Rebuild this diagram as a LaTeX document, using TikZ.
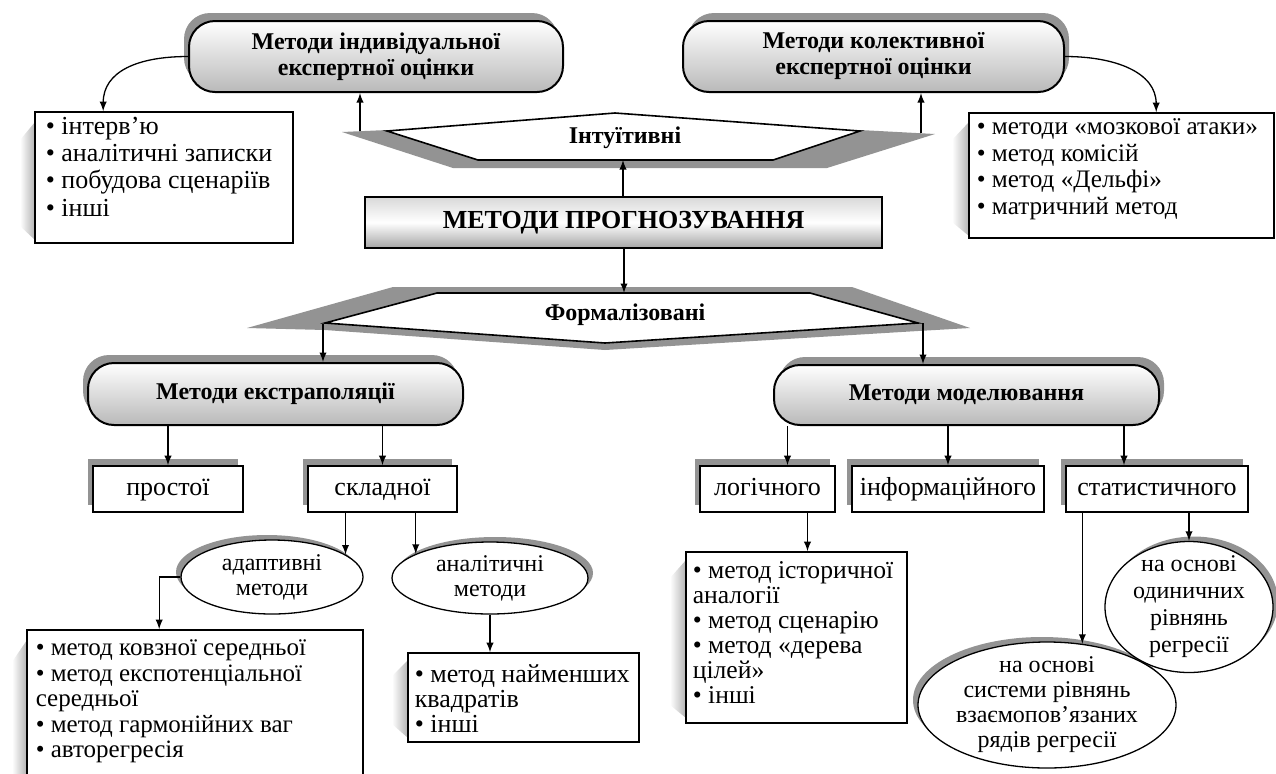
\documentclass[tikz,border=0pt]{standalone}
\usepackage{fontspec}
\setmainfont{Liberation Serif}
\usepackage{xcolor}
\usepackage{tikz}
\usetikzlibrary{arrows}
\usetikzlibrary{calc}
\usetikzlibrary{shadows}
\usetikzlibrary{shapes.geometric}

\begin{document}
\begin{tikzpicture}[x=0.5pt,y=-0.5pt,line width=0.65pt,
  head/.style={draw,line width=1pt,rounded corners=13pt,top color=white,bottom color=gray!55,
    align=center,inner sep=0pt,font=\fontsize{12}{13}\selectfont\bfseries},
  lshadow/.style={drop shadow={shadow xshift=-2.5pt,shadow yshift=4pt,fill=gray!85,opacity=1}},
  rshadow/.style={drop shadow={shadow xshift=2.5pt,shadow yshift=4pt,fill=gray!85,opacity=1}},
  kind/.style={draw,line width=0.8pt,fill=white,minimum height=23pt,inner sep=0pt,
    text height=8.5pt,text depth=2.5pt,font=\fontsize{13}{14}\selectfont,
    drop shadow={shadow xshift=-2.5pt,shadow yshift=3.5pt,fill=gray!85,opacity=1}},
  oval/.style={draw,ellipse,fill=white,align=center,inner xsep=0pt,inner ysep=-3pt,
    font=\fontsize{12}{12.5}\selectfont},
  oshadowl/.style={drop shadow={shadow xshift=-2.5pt,shadow yshift=2.5pt,fill=gray!85,opacity=1}},
  oshadowr/.style={drop shadow={shadow xshift=2.5pt,shadow yshift=2.5pt,fill=gray!85,opacity=1}},
  listbox/.style={draw,line width=0.8pt,fill=white,inner sep=0pt},
  listtext/.style={anchor=north west,align=left,inner sep=0pt},
  wedge/.style={left color=white,right color=gray!60},
  hexshadow/.style={fill=gray!85},
  hex/.style={draw,line width=0.8pt,fill=white}]

\path[use as bounding box,clip] (0,0) rectangle (1276,773);

% intuitive methods
\fill[hexshadow] (342,132) -- (387,130) -- (860,130) -- (935,134) -- (827,168) -- (453,168) -- cycle;
\draw[hex] (387,131) -- (615,113) -- (860,131) -- (773,160) -- (478,160) -- cycle;
\node[font=\fontsize{12}{13}\selectfont\bfseries] (intuit) at (625,138) {Інтуїтивні};
\coordinate (intuitL) at (360,131);
\coordinate (intuitR) at (921,133);
\coordinate (intuitB) at (623,160);

% formalized methods
\fill[hexshadow] (247,328) -- (393,287) -- (852,287) -- (970,328) -- (918,331) -- (605,350) -- (325,330) -- cycle;
\draw[hex] (325,323) -- (437,293) -- (810,293) -- (918,323) -- (605,343) -- cycle;
\node[font=\fontsize{12}{13}\selectfont\bfseries] (formal) at (625,315) {Формалізовані};
\coordinate (formalT) at (624,293);
\coordinate (formalL) at (323,324);
\coordinate (formalR) at (923,323);

\node[head,lshadow,minimum width=187pt,minimum height=35.5pt] (indiv) at (376,56.5) {Методи індивідуальної\\експертної оцінки};
\node[head,rshadow,minimum width=190.5pt,minimum height=35.5pt] (kolekt) at (873.5,56.5) {Методи колективної\\експертної оцінки};
\node[draw,line width=1pt,top color=gray!30,bottom color=gray!70,middle color=white,
  minimum width=258.5pt,minimum height=25.5pt,font=\fontsize{13}{14}\selectfont\bfseries] (prog) at (623.5,222.5) {МЕТОДИ ПРОГНОЗУВАННЯ};
\node[head,lshadow,minimum width=187.5pt,minimum height=31pt] (extrap) at (275.5,394) {Методи екстраполяції};
\node[head,rshadow,minimum width=192.5pt,minimum height=30pt] (model) at (966.5,395) {Методи моделювання};

\node[kind,minimum width=75pt] (prost) at (168,489) {простої};
\node[kind,minimum width=74.5pt] (sklad) at (382.5,489) {складної};
\node[kind,minimum width=67.5pt] (logic) at (767.5,489) {логічного};
\node[kind,minimum width=96pt] (inform) at (948,489) {інформаційного};
\node[kind,minimum width=91pt] (stat) at (1157,489) {статистичного};
\coordinate (logicIn) at ([shift={(20,0)}]logic.north);
\coordinate (logicOut) at ([shift={(40,0)}]logic.south);
\coordinate (statIn) at ([shift={(-33,0)}]stat.north);

\node[oval,oshadowl,minimum width=91pt,minimum height=37pt] (adapt) at (272,577) {адаптивні\\методи};
\node[oval,oshadowr,minimum width=98pt,minimum height=36pt] (analyt) at (490,578) {аналітичні\\методи};
\node[oval,oshadowl,minimum width=129pt,minimum height=63pt] (ellSystem) at (1047,705) {на основі\\системи рівнянь\\взаємопов’язаних\\рядів регресії};
\node[oval,oshadowr,minimum width=84pt,minimum height=65.5pt,font=\fontsize{12}{13.5}\selectfont] (ellSingle) at (1189,607) {на основі\\одиничних\\рівнянь\\регресії};

% lists
\shade[wedge] (35,122) -- (20,140) -- (20,226) -- (35,240) -- cycle;
\node[listbox,minimum width=129pt,minimum height=65.5pt] (listIndiv) at (164,177.5) {};
\node[listtext,font=\fontsize{13}{13.7}\selectfont] (listIndivText) at ([shift={(11,5)}]listIndiv.north west)
  {\textbullet{} інтерв’ю\\\textbullet{} аналітичні записки\\\textbullet{} побудова сценаріїв\\\textbullet{} інші};

\shade[wedge] (969,122) -- (952,140) -- (952,222) -- (969,236) -- cycle;
\node[listbox,minimum width=152.5pt,minimum height=62.5pt] (listKolekt) at (1121.5,175.5) {};
\node[listtext,font=\fontsize{12.6}{13.3}\selectfont] (listKolektText) at ([shift={(8,6)}]listKolekt.north west)
  {\textbullet{} методи «мозкової атаки»\\\textbullet{} метод комісій\\\textbullet{} метод «Дельфі»\\\textbullet{} матричний метод};

\shade[wedge] (27,640) -- (12,662) -- (12,790) -- (27,800) -- cycle;
\node[listbox,minimum width=168pt,minimum height=80pt] (listAdapt) at (195,710) {};
\node[listtext,font=\fontsize{12.5}{12.75}\selectfont] (listAdaptText) at ([shift={(9,10)}]listAdapt.north west)
  {\textbullet{} метод ковзної середньої\\\textbullet{} метод експотенціальної\\середньої\\\textbullet{} метод гармонійних ваг\\\textbullet{} авторегресія};

\shade[wedge] (408,660) -- (392,676) -- (392,724) -- (408,738) -- cycle;
\node[listbox,minimum width=115.5pt,minimum height=44.5pt] (listAnalyt) at (523.5,697.5) {};
\node[listtext,font=\fontsize{13}{12.5}\selectfont] (listAnalytText) at ([shift={(7,12)}]listAnalyt.north west)
  {\textbullet{} метод найменших\\квадратів\\\textbullet{} інші};

\shade[wedge] (686,560) -- (670,578) -- (670,705) -- (686,718) -- cycle;
\node[listbox,minimum width=110.5pt,minimum height=85.5pt] (listLogic) at (796.5,637.5) {};
\node[listtext,font=\fontsize{12.8}{12.5}\selectfont] (listLogicText) at ([shift={(7,10)}]listLogic.north west)
  {\textbullet{} метод історичної\\аналогії\\\textbullet{} метод сценарію\\\textbullet{} метод «дерева\\цілей»\\\textbullet{} інші};

% connectors
\draw[-latex] (indiv.west) .. controls +(-50,0) and +(0,-40) .. ([shift={(69,0)}]listIndiv.north west);
\draw[-latex] (kolekt.east) .. controls +(50,0) and +(0,-40) .. ([shift={(188,0)}]listKolekt.north west);
\draw[-latex] (intuitL) -- (intuitL |- indiv.south);
\draw[-latex] (intuitR) -- (intuitR |- kolekt.south);
\draw[-latex] (prog.north -| intuitB) -- (intuitB);
\draw[-latex] (prog.south -| formalT) -- (formalT);
\draw[-latex] (formalL) -- (formalL |- extrap.north);
\draw[-latex] (formalR) -- (formalR |- model.north);
\draw[-latex] (extrap.south -| prost.north) -- (prost.north);
\draw[-latex] (extrap.south -| sklad.north) -- (sklad.north);
\draw[-latex] (sklad.south -| adapt.17) -- (adapt.17);
\draw[-latex] (sklad.south -| analyt.162) -- (analyt.162);
\draw[-latex] (adapt.west) -| ([shift={(133,0)}]listAdapt.north west);
\draw[-latex] (analyt.south) -- (analyt.south |- listAnalyt.north);
\draw[-latex] (model.south -| logicIn) -- (logicIn);
\draw[-latex] (model.south -| inform.north) -- (inform.north);
\draw[-latex] (model.south -| statIn) -- (statIn);
\draw[-latex] (logicOut) -- (logicOut |- listLogic.north);
\draw[-latex] (stat.south -| ellSystem.60) -- (ellSystem.60);
\draw[-latex] (stat.south -| ellSingle.north) -- (ellSingle.north);
\end{tikzpicture}
\end{document}
